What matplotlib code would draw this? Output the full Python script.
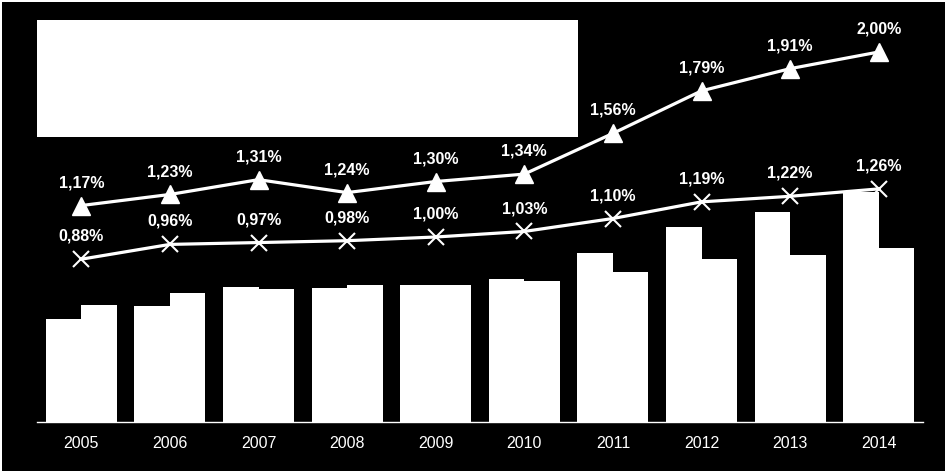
import numpy as np
import matplotlib.pyplot as plt
from matplotlib.patches import Rectangle

plt.rcParams['font.family'] = ['Liberation Sans', 'DejaVu Sans']

years = ["2005", "2006", "2007", "2008", "2009", "2010", "2011", "2012", "2013", "2014"]
bars_a = [55.7, 62.7, 73.0, 72.4, 74.1, 77.3, 91.4, 105.4, 113.5, 124.3]
bars_b = [63.2, 69.7, 71.9, 74.1, 74.1, 76.2, 81.1, 88.1, 90.3, 94.1]
line_tri = [1.17, 1.23, 1.31, 1.24, 1.30, 1.34, 1.56, 1.79, 1.91, 2.00]
line_x = [0.88, 0.96, 0.97, 0.98, 1.00, 1.03, 1.10, 1.19, 1.22, 1.26]


def pct(v):
    return f"{v:.2f}".replace(".", ",") + "%"


fig = plt.figure(figsize=(9.47, 4.75), dpi=100)
fig.patch.set_facecolor("white")
fig.patches.append(Rectangle((2 / 947, 4 / 475), 943 / 947, 469 / 475,
                             transform=fig.transFigure, facecolor="black",
                             edgecolor="none", zorder=-10))

ax = fig.add_axes([37 / 947, 53 / 475, 886 / 947, 407 / 475])
ax.set_facecolor("none")
x = np.arange(len(years))
ax.bar(x - 0.2, bars_a, width=0.4, color="white", linewidth=0)
ax.bar(x + 0.2, bars_b, width=0.4, color="white", linewidth=0)
ax.set_xlim(-0.5, len(years) - 0.5)
ax.set_ylim(0, 220)
ax.set_yticks([])
ax.set_xticks(x)
ax.set_xticklabels(years, color="white", fontsize=11.5)
ax.tick_params(axis="x", length=0, pad=10)
for s in ["top", "left", "right"]:
    ax.spines[s].set_visible(False)
ax.spines["bottom"].set_color("white")
ax.spines["bottom"].set_linewidth(1)

ax2 = ax.twinx()
ax2.set_ylim(0, 2.2)
ax2.set_yticks([])
for s in ax2.spines.values():
    s.set_visible(False)
ax2.plot(x, line_tri, color="white", linewidth=2.3, marker="^", markersize=13)
ax2.plot(x, line_x, color="white", linewidth=2.3, marker="x", markersize=12,
         markeredgewidth=1.5)
for xi, v in zip(x, line_tri):
    ax2.annotate(pct(v), (xi, v), xytext=(0, 16.5), textcoords="offset points",
                 ha="center", va="center", color="white", fontsize=11.5,
                 fontweight="bold")
for xi, v in zip(x, line_x):
    ax2.annotate(pct(v), (xi, v), xytext=(0, 16.5), textcoords="offset points",
                 ha="center", va="center", color="white", fontsize=11.5,
                 fontweight="bold")

# legend area (blank white box)
fig.patches.append(Rectangle((37 / 947, (475 - 137) / 475), 541 / 947, 117 / 475,
                             transform=fig.transFigure, facecolor="white",
                             edgecolor="none", zorder=5))

fig.savefig("out.png", dpi=100, facecolor=fig.get_facecolor())
